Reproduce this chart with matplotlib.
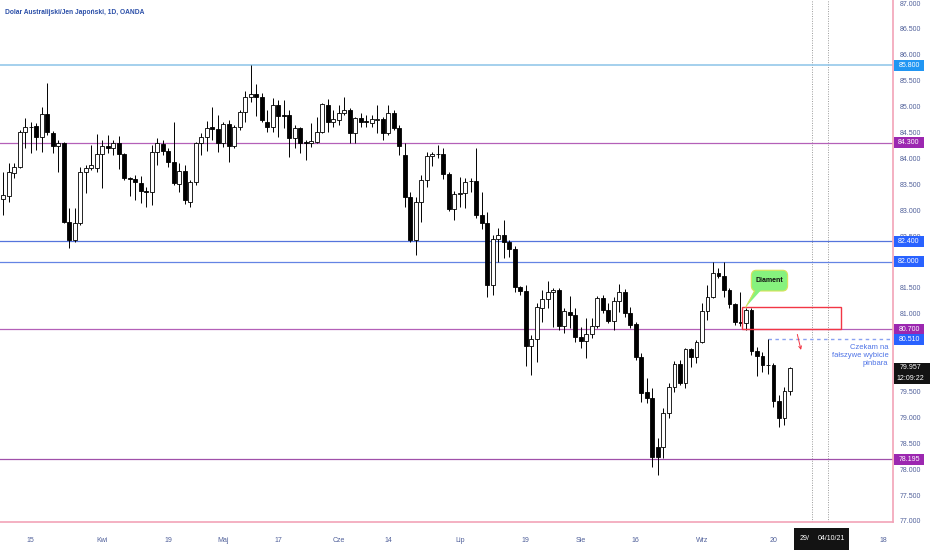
import matplotlib
matplotlib.use("Agg")
import matplotlib.pyplot as plt
import matplotlib.transforms as mtransforms
from matplotlib.patches import Rectangle, FancyBboxPatch, Polygon
import numpy as np
import pandas as pd

plt.rcParams['font.family'] = ['Liberation Sans', 'DejaVu Sans']

# dzienne świece AUD/JPY od 8.03.2021 (dni robocze)
start_date = '2021-03-08'
opens = [83.216, 83.274, 83.718, 83.834, 84.510, 84.606, 84.626, 84.413, 84.857, 84.490,
         84.239, 84.297, 82.772, 82.425, 82.753, 83.737, 83.815, 83.815, 84.085, 84.239,
         84.201, 84.297, 84.085, 83.622, 83.602, 83.525, 83.371, 83.351, 84.124, 84.278,
         84.143, 83.931, 83.506, 83.757, 83.158, 83.544, 84.297, 84.413, 84.606, 84.568,
         84.297, 84.664, 84.239, 84.606, 84.896, 85.185, 85.243, 85.185, 84.703, 84.606,
         85.031, 84.838, 84.838, 84.394, 84.587, 84.317, 84.297, 84.317, 84.510, 85.031,
         84.703, 84.741, 84.877, 84.935, 84.490, 84.780, 84.722, 84.683, 84.741, 84.761,
         84.490, 84.877, 84.587, 84.066, 83.255, 82.425, 83.158, 83.583, 84.046, 84.085,
         84.085, 83.699, 83.023, 83.313, 83.332, 83.564, 83.564, 82.907, 82.753, 81.556,
         82.444, 82.521, 82.386, 82.251, 81.517, 81.440, 80.378, 80.514, 81.112, 81.286,
         81.421, 81.460, 80.765, 81.035, 80.977, 80.552, 80.475, 80.610, 80.765, 81.305,
         81.073, 80.861, 81.247, 81.421, 81.016, 80.803, 80.166, 79.490, 79.375, 78.429,
         78.429, 79.085, 79.587, 80.031, 79.664, 80.320, 80.166, 80.456, 81.054, 81.325,
         81.788, 81.730, 81.460, 81.189, 80.842, 80.823, 81.073, 80.282, 80.186, 80.012,
         80.012, 79.317, 78.989, 79.510]
highs = [83.737, 83.911, 83.911, 84.548, 84.780, 84.703, 84.683, 84.992, 85.456, 84.529,
         84.355, 84.317, 83.043, 83.043, 83.834, 83.873, 84.259, 84.471, 84.355, 84.452,
         84.355, 84.432, 84.104, 83.641, 83.680, 83.660, 83.448, 84.259, 84.394, 84.355,
         84.201, 84.703, 83.911, 83.873, 83.583, 84.317, 84.490, 84.722, 84.992, 84.838,
         84.703, 84.741, 84.645, 84.935, 85.301, 85.803, 85.436, 85.263, 84.935, 85.166,
         85.128, 85.128, 84.935, 84.645, 84.606, 84.355, 84.683, 84.799, 85.070, 85.147,
         84.935, 85.031, 85.185, 84.973, 84.799, 84.877, 84.838, 84.838, 85.031, 84.799,
         85.031, 84.935, 84.645, 84.297, 83.351, 83.255, 83.680, 84.124, 84.124, 84.259,
         84.201, 83.737, 83.371, 83.641, 83.622, 83.622, 84.201, 83.351, 82.965, 82.521,
         82.656, 82.811, 82.425, 82.309, 81.530, 81.556, 80.591, 81.209, 81.460, 81.633,
         81.498, 81.498, 81.112, 81.344, 81.112, 80.745, 80.919, 80.919, 81.344, 81.363,
         81.209, 81.325, 81.575, 81.479, 81.131, 80.842, 80.243, 79.761, 79.568, 78.603,
         79.182, 79.664, 80.089, 80.108, 80.340, 80.340, 80.494, 81.209, 81.556, 82.000,
         81.884, 82.000, 81.498, 81.209, 81.421, 81.112, 81.112, 80.359, 80.262, 80.510,
         80.050, 79.432, 79.587, 79.973]
lows = [82.907, 83.158, 83.622, 83.815, 84.201, 84.104, 84.162, 84.124, 84.452, 84.104,
        83.737, 82.753, 82.270, 82.386, 82.714, 83.332, 83.776, 83.737, 83.429, 84.104,
        84.066, 83.795, 83.583, 83.274, 83.197, 83.139, 83.062, 83.100, 83.873, 84.066,
        83.834, 83.486, 83.351, 83.120, 83.062, 83.486, 84.066, 84.143, 84.355, 84.124,
        84.220, 83.931, 84.201, 84.548, 84.703, 85.089, 84.819, 84.703, 84.510, 84.510,
        84.413, 84.587, 84.027, 84.201, 84.104, 83.969, 84.220, 84.297, 84.490, 84.510,
        84.606, 84.645, 84.838, 84.297, 84.297, 84.606, 84.606, 84.606, 84.490, 84.355,
        84.452, 84.548, 84.066, 83.062, 82.386, 82.135, 82.772, 83.448, 83.853, 84.008,
        83.602, 82.985, 82.811, 83.062, 83.043, 83.351, 82.850, 82.637, 81.325, 81.363,
        82.000, 82.077, 82.097, 81.421, 81.363, 79.992, 79.819, 80.070, 80.842, 81.112,
        80.745, 80.687, 80.629, 80.726, 80.456, 80.340, 80.147, 80.533, 80.726, 81.016,
        80.823, 80.687, 81.035, 80.938, 80.726, 80.108, 79.297, 79.278, 78.042, 77.888,
        78.216, 78.989, 79.490, 79.625, 79.568, 79.973, 80.050, 80.436, 80.880, 81.305,
        81.691, 81.325, 81.112, 80.784, 80.765, 80.687, 80.205, 79.800, 79.877, 79.838,
        79.201, 78.815, 78.853, 79.432]
closes = [83.294, 83.737, 83.834, 84.510, 84.606, 84.597, 84.413, 84.857, 84.510, 84.239,
          84.297, 82.772, 82.425, 82.753, 83.737, 83.815, 83.873, 84.085, 84.239, 84.201,
          84.297, 84.085, 83.622, 83.602, 83.544, 83.371, 83.351, 84.124, 84.297, 84.143,
          83.931, 83.525, 83.757, 83.197, 83.544, 84.297, 84.413, 84.587, 84.568, 84.297,
          84.664, 84.239, 84.606, 84.896, 85.185, 85.243, 85.185, 84.741, 84.606, 85.031,
          84.819, 84.819, 84.394, 84.587, 84.297, 84.297, 84.336, 84.510, 85.050, 84.703,
          84.761, 84.877, 84.935, 84.490, 84.780, 84.703, 84.703, 84.761, 84.761, 84.490,
          84.877, 84.587, 84.239, 83.255, 82.425, 83.158, 83.583, 84.046, 84.085, 84.080,
          83.699, 83.023, 83.313, 83.332, 83.544, 83.560, 82.907, 82.753, 81.556, 82.444,
          82.521, 82.386, 82.251, 81.517, 81.440, 80.378, 80.514, 81.131, 81.286, 81.421,
          81.460, 80.765, 81.054, 80.977, 80.552, 80.475, 80.610, 80.765, 81.305, 81.073,
          80.861, 81.247, 81.421, 81.016, 80.784, 80.166, 79.471, 79.375, 78.235, 78.235,
          79.085, 79.587, 80.031, 79.664, 80.320, 80.166, 80.456, 81.054, 81.325, 81.788,
          81.730, 81.460, 81.189, 80.842, 80.823, 81.073, 80.282, 80.186, 80.012, 80.008,
          79.317, 78.989, 79.510, 79.957]

# poziomy narysowane na wykresie
levels = [85.800, 84.300, 82.400, 82.000, 80.700, 78.195]
level_line_colors = ['#8cc4e8', '#b460b8', '#5574dc', '#6484e4', '#b460b8', '#a050aa']
level_box_colors = ['#2196f3', '#9c27b0', '#2962ff', '#2962ff', '#9c27b0', '#9c27b0']
pinbar_level = 80.510
last_price = 79.957
last_time = '12:09:22'

tick_dates = ['2021-03-15', '2021-04-01', '2021-04-19', '2021-05-03', '2021-05-17',
              '2021-06-01', '2021-06-14', '2021-07-01', '2021-07-19', '2021-08-02',
              '2021-08-16', '2021-09-01', '2021-09-20', '2021-10-18']
tick_labels = ['15', 'Kwi', '19', 'Maj', '17', 'Cze', '14', 'Lip', '19', 'Sie',
               '16', 'Wrz', '20', '18']
cursor_dates = ['2021-09-29', '2021-10-04']
cursor_labels = ['29/', '04/10/21']

dates = pd.bdate_range(start_date, periods=180)
n = len(opens)
idx = np.arange(n)

def pos(d):
    return dates.get_loc(pd.Timestamp(d))

W, H = 932, 550
fig = plt.figure(figsize=(W / 100, H / 100), dpi=100)
ax = fig.add_axes([0, 28 / H, 893 / W, 522 / H])
ax.set_xlim(-0.6, 161.76)
ax.set_ylim(76.98, 87.058)

tick_col = '#50609a'
pink = '#f2a3b8'
for s in ['top', 'left']:
    ax.spines[s].set_visible(False)
for s in ['right', 'bottom']:
    ax.spines[s].set_color(pink)
    ax.spines[s].set_linewidth(1.2)

# osie
ax.set_xticks([pos(d) for d in tick_dates])
ax.set_xticklabels(tick_labels)
ax.set_yticks(np.arange(77.0, 87.01, 0.5))
ax.set_yticklabels([f'{v:.3f}' for v in np.arange(77.0, 87.01, 0.5)])
ax.yaxis.tick_right()
ax.tick_params(axis='both', length=0, labelsize=5, labelcolor=tick_col)
ax.tick_params(axis='x', pad=11)
ax.tick_params(axis='y', pad=5)

# swiece
for i in idx:
    o, h, l, c = opens[i], highs[i], lows[i], closes[i]
    ax.vlines(i, l, h, color='black', lw=0.7, zorder=3)
    up = c >= o
    ax.bar(i, max(abs(c - o), 0.012), bottom=min(o, c), width=0.66,
           color='white' if up else 'black', edgecolor='black', lw=0.6, zorder=4)

# linie poziome
for lv, lc in zip(levels, level_line_colors):
    ax.axhline(lv, color=lc, lw=1.1 if lv == 85.8 else 0.9, zorder=2)

pin_start = 139
ax.hlines(pinbar_level, pin_start, 161.76, colors='#8aa2f0', lw=1.0,
          linestyles=(0, (2.5, 2.5)), zorder=2)

# pionowe kropkowane
for d in cursor_dates:
    ax.axvline(pos(d), color='#9a9a9a', lw=0.7, ls=(0, (1, 1.5)), zorder=1)

# prostokat i strzalka
red = '#f23645'
ax.add_patch(Rectangle((134.25, 80.70), 18.0, 0.43, fill=False, edgecolor=red,
                       lw=1.0, zorder=5))
ax.annotate('', xy=(145.15, 80.25), xytext=(144.25, 80.654),
            arrowprops=dict(arrowstyle='->', color=red, lw=0.7,
                            mutation_scale=5), zorder=5)

ax.text(160.9, 80.19, 'Czekam na\nfałszywe wybicie\npinbara', ha='right', va='center',
        fontsize=5.5, color='#4f74e6', linespacing=1.15, zorder=6)

# dymek "Diament"
bubble = FancyBboxPatch((136.0, 81.44), 6.6, 0.40,
                        boxstyle='round,pad=0.0,rounding_size=0.9',
                        mutation_aspect=0.12,
                        facecolor='#86f27e', edgecolor='#d6e35a', lw=0.8, zorder=7)
ax.add_patch(bubble)
ax.add_patch(Polygon([(136.6, 81.46), (135.0, 81.13), (137.8, 81.46)],
                     closed=True, facecolor='#86f27e', edgecolor='none', zorder=7))
ax.plot([136.6, 135.0], [81.44, 81.13], color='#d6e35a', lw=0.8, zorder=7)
ax.text(139.3, 81.64, 'Diament', ha='center', va='center', fontsize=5,
        fontweight='bold', color='#111111', zorder=8)

# tytul
fig.text(5 / W, 1 - 12 / H, 'Dolar Australijski/Jen Japoński, 1D, OANDA',
         fontsize=4.8, fontweight='bold', color='#2b4fa8', ha='left', va='center')

# etykiety cen po prawej
tr = mtransforms.blended_transform_factory(fig.transFigure, ax.transData)
box_h = 11 / 51.8
def price_box(price, color, width=30, h=box_h):
    ax.add_patch(Rectangle((894 / W, price - h / 2), width / W, h, transform=tr,
                           facecolor=color, edgecolor='none', clip_on=False, zorder=9))

for lv, bc in zip(levels, level_box_colors):
    price_box(lv, bc)
    ax.text(909 / W, lv, f'{lv:.3f}', transform=tr, ha='center', va='center',
            fontsize=5, color='white', clip_on=False, zorder=10)
price_box(pinbar_level, '#2962ff')
ax.text(909 / W, pinbar_level, f'{pinbar_level:.3f}', transform=tr, ha='center',
        va='center', fontsize=5, color='white', clip_on=False, zorder=10)

lp_h = 21 / 51.8
ax.add_patch(Rectangle((894 / W, last_price - lp_h + 5 / 51.8), 36 / W, lp_h, transform=tr,
                       facecolor='#131313', edgecolor='none', clip_on=False, zorder=9))
ax.text(910 / W, last_price, f'{last_price:.3f}', transform=tr, ha='center',
        va='center', fontsize=5, color='white', clip_on=False, zorder=10)
ax.text(910 / W, last_price - 10.5 / 51.8, last_time, transform=tr, ha='center',
        va='center', fontsize=5, color='white', clip_on=False, zorder=10)

# etykiety kursora na osi czasu: wspolne czarne tlo
ax.add_patch(Rectangle((794 / W, 0), 55 / W, 22 / H, transform=fig.transFigure,
                       facecolor='#131313', edgecolor='none', clip_on=False, zorder=9))
trx = mtransforms.blended_transform_factory(ax.transData, fig.transFigure)
ax.text(pos(cursor_dates[0]) - 1.4, 1 - 539 / H, cursor_labels[0], transform=trx,
        ha='center', va='center', fontsize=5, color='white', clip_on=False, zorder=10)
ax.text(pos(cursor_dates[1]) + 0.5, 1 - 539 / H, cursor_labels[1], transform=trx,
        ha='center', va='center', fontsize=5, color='white', clip_on=False, zorder=10)

fig.savefig('out.png', dpi=100, facecolor='white')
